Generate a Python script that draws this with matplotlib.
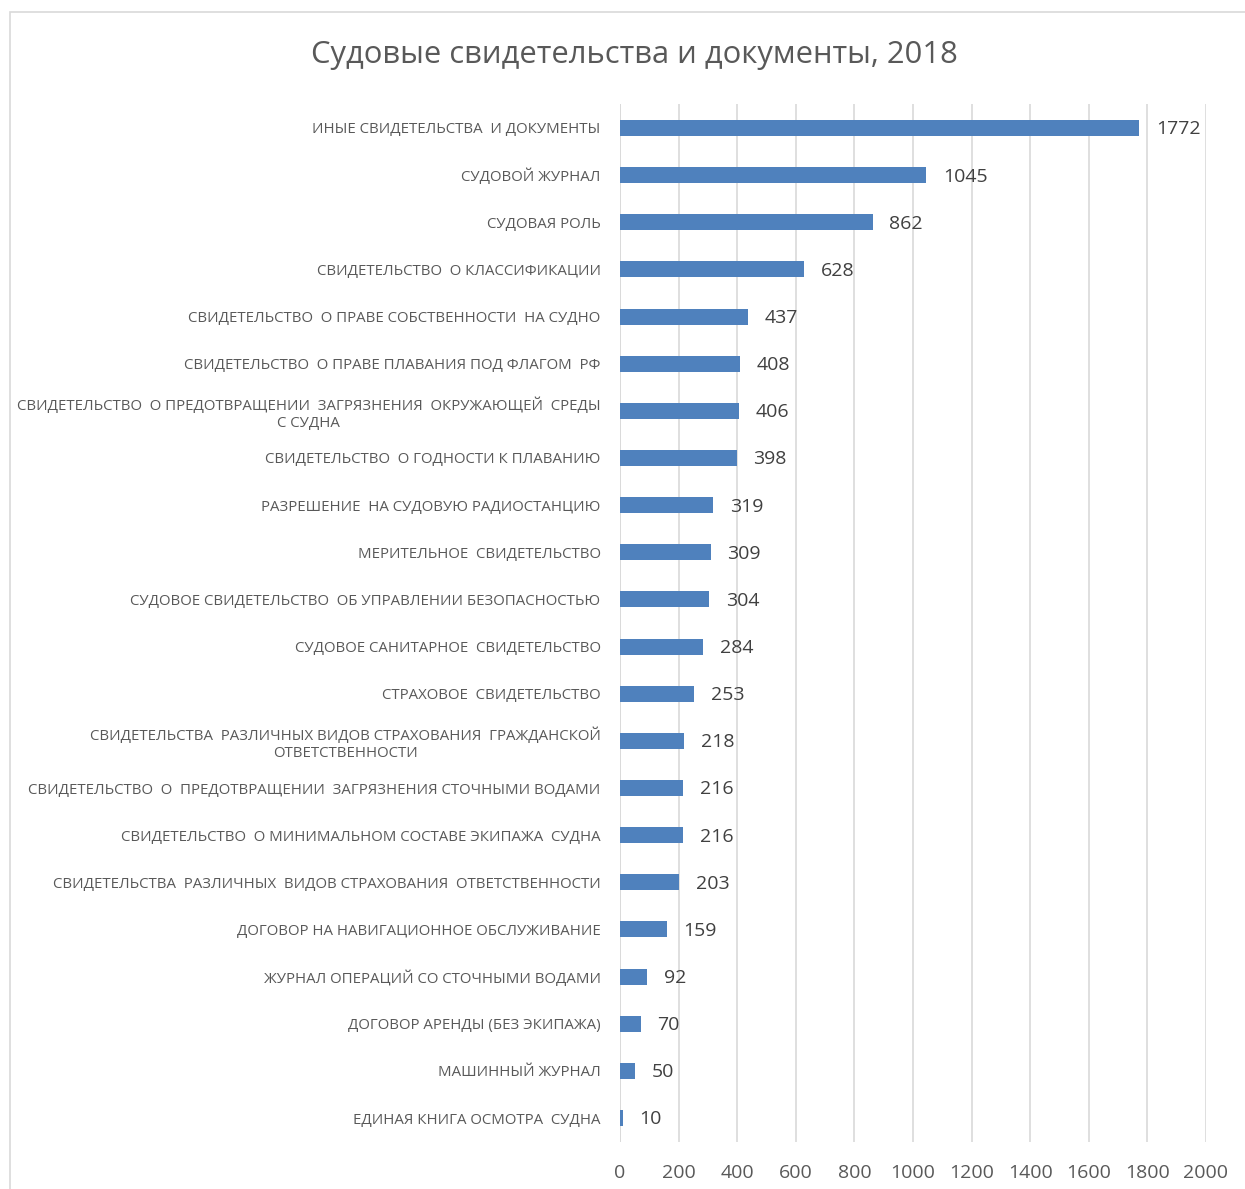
import matplotlib
matplotlib.use("Agg")
import matplotlib.pyplot as plt
from matplotlib.patches import Rectangle

plt.rcParams["font.family"] = ["Open Sans", "DejaVu Sans"]

title = "Судовые свидетельства и документы, 2018"

categories = [
    "ИНЫЕ СВИДЕТЕЛЬСТВА  И ДОКУМЕНТЫ",
    "СУДОВОЙ ЖУРНАЛ",
    "СУДОВАЯ РОЛЬ",
    "СВИДЕТЕЛЬСТВО  О КЛАССИФИКАЦИИ",
    "СВИДЕТЕЛЬСТВО  О ПРАВЕ СОБСТВЕННОСТИ  НА СУДНО",
    "СВИДЕТЕЛЬСТВО  О ПРАВЕ ПЛАВАНИЯ ПОД ФЛАГОМ  РФ",
    "СВИДЕТЕЛЬСТВО  О ПРЕДОТВРАЩЕНИИ  ЗАГРЯЗНЕНИЯ  ОКРУЖАЮЩЕЙ  СРЕДЫ\nС СУДНА",
    "СВИДЕТЕЛЬСТВО  О ГОДНОСТИ К ПЛАВАНИЮ",
    "РАЗРЕШЕНИЕ  НА СУДОВУЮ РАДИОСТАНЦИЮ",
    "МЕРИТЕЛЬНОЕ  СВИДЕТЕЛЬСТВО",
    "СУДОВОЕ СВИДЕТЕЛЬСТВО  ОБ УПРАВЛЕНИИ БЕЗОПАСНОСТЬЮ",
    "СУДОВОЕ САНИТАРНОЕ  СВИДЕТЕЛЬСТВО",
    "СТРАХОВОЕ  СВИДЕТЕЛЬСТВО",
    "СВИДЕТЕЛЬСТВА  РАЗЛИЧНЫХ ВИДОВ СТРАХОВАНИЯ  ГРАЖДАНСКОЙ\nОТВЕТСТВЕННОСТИ",
    "СВИДЕТЕЛЬСТВО  О  ПРЕДОТВРАЩЕНИИ  ЗАГРЯЗНЕНИЯ СТОЧНЫМИ ВОДАМИ",
    "СВИДЕТЕЛЬСТВО  О МИНИМАЛЬНОМ СОСТАВЕ ЭКИПАЖА  СУДНА",
    "СВИДЕТЕЛЬСТВА  РАЗЛИЧНЫХ  ВИДОВ СТРАХОВАНИЯ  ОТВЕТСТВЕННОСТИ",
    "ДОГОВОР НА НАВИГАЦИОННОЕ ОБСЛУЖИВАНИЕ",
    "ЖУРНАЛ ОПЕРАЦИЙ СО СТОЧНЫМИ ВОДАМИ",
    "ДОГОВОР АРЕНДЫ (БЕЗ ЭКИПАЖА)",
    "МАШИННЫЙ ЖУРНАЛ",
    "ЕДИНАЯ КНИГА ОСМОТРА  СУДНА",
]
values = [1772, 1045, 862, 628, 437, 408, 406, 398, 319, 309, 304, 284,
          253, 218, 216, 216, 203, 159, 92, 70, 50, 10]
x_ticks = list(range(0, 2001, 200))

text_color = "#595959"
bar_color = "#4F81BD"
grid_color = "#D9D9D9"

fig = plt.figure(figsize=(12.45, 11.89), dpi=100)
fig.patches.append(Rectangle((10 / 1245, -0.01), 1.1, 1 - 12 / 1189 + 0.01,
                             transform=fig.transFigure, fill=False,
                             edgecolor="#D9D9D9", linewidth=1.2))

ax = fig.add_axes([620 / 1245, 1 - 1141.6 / 1189, 586 / 1245, 1037.2 / 1189])
pos = list(range(len(categories)))
ax.barh(pos, values, height=0.34, color=bar_color, zorder=3)
ax.set_ylim(len(categories) - 0.5, -0.5)
ax.set_xlim(0, 2000)
ax.set_xticks(x_ticks)
ax.set_xticklabels([str(t) for t in x_ticks], fontsize=14, color=text_color)
ax.set_yticks(pos)
ax.set_yticklabels(categories, fontsize=10.8, color=text_color,
                   multialignment="center")
ax.tick_params(axis="both", length=0)
ax.tick_params(axis="x", pad=16)
ax.tick_params(axis="y", pad=14)
for s in ax.spines.values():
    s.set_visible(False)
ax.grid(axis="x", color=grid_color, linewidth=1.2, zorder=0)
ax.axvline(0, color=grid_color, linewidth=1.2, zorder=1)

for p, v in zip(pos, values):
    ax.annotate(str(v), (v, p), xytext=(12, -1), textcoords="offset points",
                va="center", ha="left", fontsize=14, color="#404040")

fig.text(634 / 1245, 1 - 55 / 1189, title, ha="center", va="center",
         fontsize=22.3, color=text_color)

fig.savefig("out.png", dpi=100)
